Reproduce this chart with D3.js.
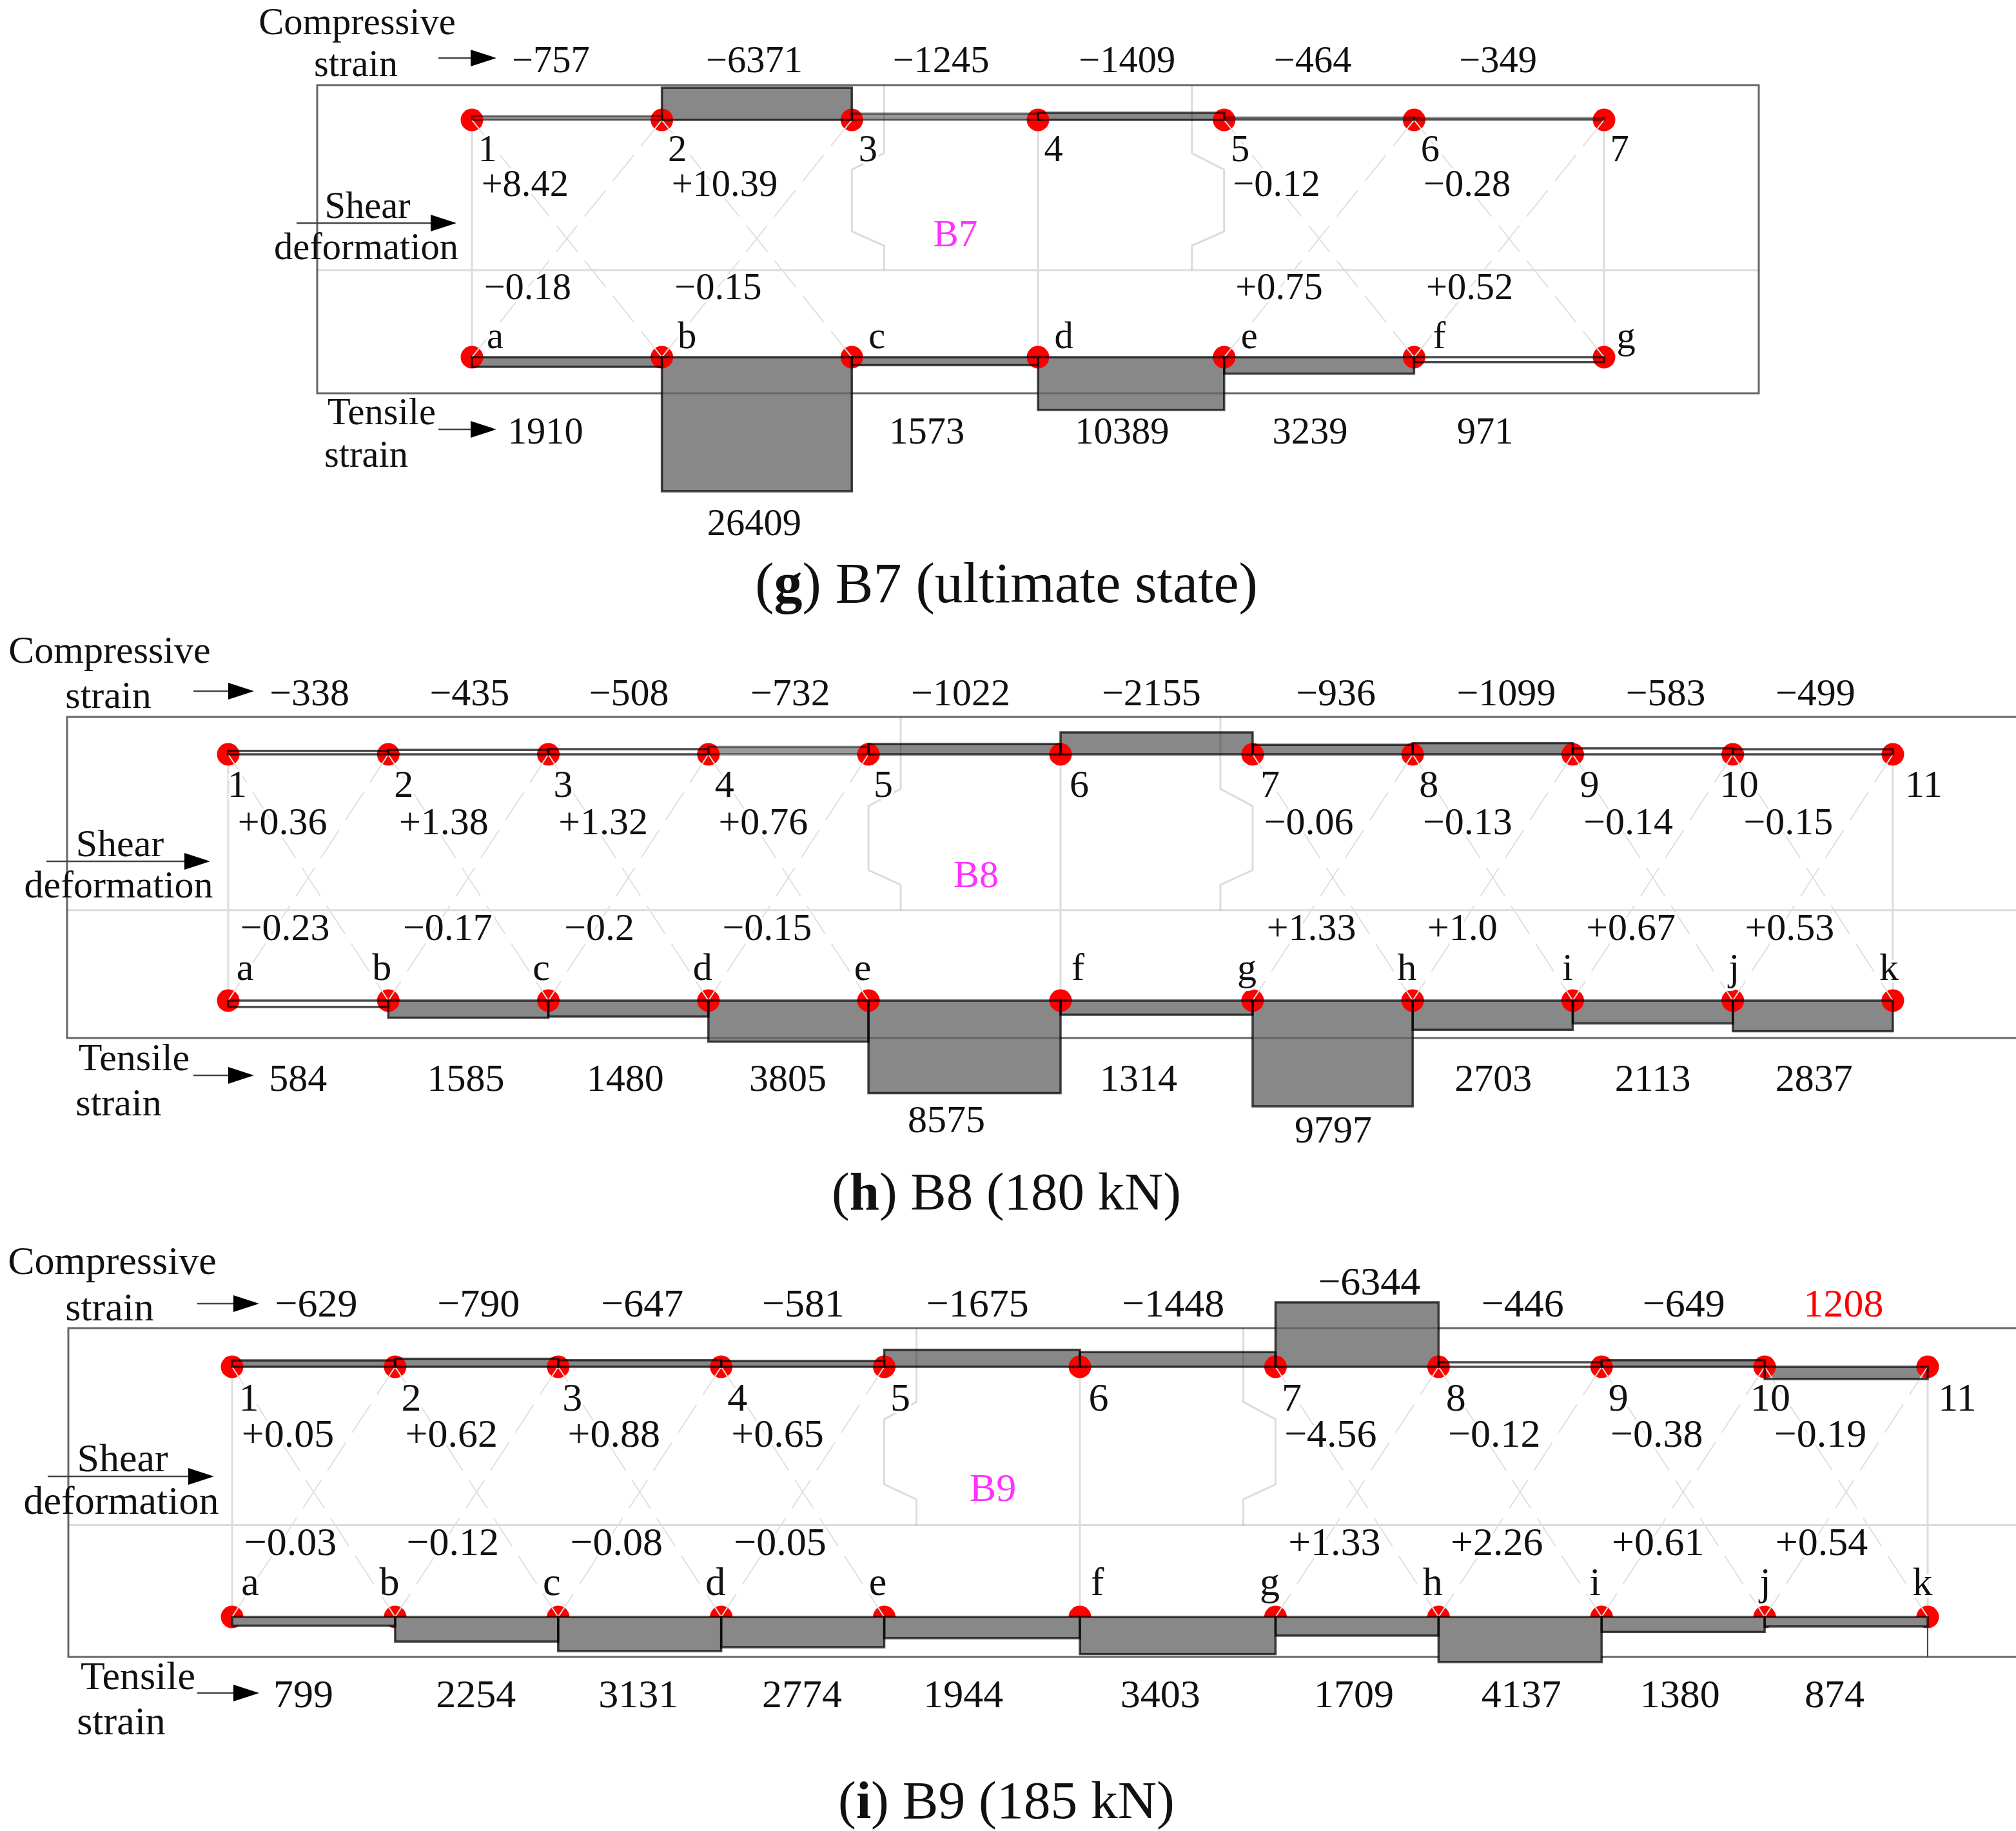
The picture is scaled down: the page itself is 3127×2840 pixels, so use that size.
<!DOCTYPE html>
<html>
<head>
<meta charset="utf-8">
<script src="https://cdn.jsdelivr.net/npm/d3@7"></script>
<style>
  body { margin: 0; background: #fff; }
  text { font-family: "Liberation Serif", serif; fill: #111; }
</style>
</head>
<body>
<svg id="chart" width="3127" height="2840"></svg>
<script>
// bay lengths in mm
var b7Bays = [300, 300, 294, 294, 300, 300]
var b8Bays = [250, 250, 250, 250, 300, 300, 250, 250, 250, 250]
var b9Bays = [250, 250, 250, 250, 300, 300, 250, 250, 250, 250]

var b7Numbers = ["1", "2", "3", "4", "5", "6", "7"]
var b7Letters = ["a", "b", "c", "d", "e", "f", "g"]
var longNumbers = ["1", "2", "3", "4", "5", "6", "7", "8", "9", "10", "11"]
var longLetters = ["a", "b", "c", "d", "e", "f", "g", "h", "i", "j", "k"]

// strain per bay
var b7Comp = [-757, -6371, -1245, -1409, -464, -349]
var b7Tens = [1910, 26409, 1573, 10389, 3239, 971]
var b8Comp = [-338, -435, -508, -732, -1022, -2155, -936, -1099, -583, -499]
var b8Tens = [584, 1585, 1480, 3805, 8575, 1314, 9797, 2703, 2113, 2837]
var b9Comp = [-629, -790, -647, -581, -1675, -1448, -6344, -446, -649, 1208]
var b9Tens = [799, 2254, 3131, 2774, 1944, 3403, 1709, 4137, 1380, 874]

// shear deformation per bay, no reading in the loaded bays
var b7ShearTop = ["+8.42", "+10.39", null, null, "\u22120.12", "\u22120.28"]
var b7ShearBot = ["\u22120.18", "\u22120.15", null, null, "+0.75", "+0.52"]
var b8ShearTop = ["+0.36", "+1.38", "+1.32", "+0.76", null, null, "\u22120.06", "\u22120.13", "\u22120.14", "\u22120.15"]
var b8ShearBot = ["\u22120.23", "\u22120.17", "\u22120.2", "\u22120.15", null, null, "+1.33", "+1.0", "+0.67", "+0.53"]
var b9ShearTop = ["+0.05", "+0.62", "+0.88", "+0.65", null, null, "\u22124.56", "\u22120.12", "\u22120.38", "\u22120.19"]
var b9ShearBot = ["\u22120.03", "\u22120.12", "\u22120.08", "\u22120.05", null, null, "+1.33", "+2.26", "+0.61", "+0.54"]

var panels = [
  { name: "B7", letter: "g", rest: " B7 (ultimate state)", captionY: 934, capFont: 88,
    bays: b7Bays, numbers: b7Numbers, letters: b7Letters, comp: b7Comp, tens: b7Tens, shearTop: b7ShearTop, shearBot: b7ShearBot,
    x0: 732, x1: 2488, top: 186, bot: 554, frame: [492, 132, 2728, 610], font: 58.5,
    blocks: [2, 4], compPx: 50, tensPx: 208, hollowComp: [], hollowTens: [5], softComp: [0, 2, 4, 5],
    compY: 112, tensY: 688, numY: 250, letterY: 540, topY: 304, botY: 464,
    nameX: 1482, nameY: 382,
    compDx: [-25, -4, -6, -6, -10, -17], tensDx: [-33, -4, -28, -14, -14, -37],
    topDx: [-65, -50, 0, 0, -66, -65], botDx: [-61, -60, 0, 0, -62, -61],
    numDx: [24, 24, 25, 24, 25, 25, 24], letterDx: [36, 39, 39, 40, 39, 39, 34],
    compDy: {}, tensDy: { 1: 142 },
    titles: [["Compressive", 554, 53], ["strain", 552, 118], ["Shear", 570, 338], ["deformation", 568, 402], ["Tensile", 592, 658], ["strain", 568, 724]],
    arrows: [[680, 770, 90], [460, 708, 346], [680, 770, 666]] },
  { name: "B8", letter: "h", rest: " B8 (180 kN)", captionY: 1876, capFont: 83,
    bays: b8Bays, numbers: longNumbers, letters: longLetters, comp: b8Comp, tens: b8Tens, shearTop: b8ShearTop, shearBot: b8ShearBot,
    x0: 354, x1: 2936, top: 1170, bot: 1552, frame: [104, 1112, 3140, 1610], font: 60,
    blocks: [4, 6], compPx: 34, tensPx: 164, hollowComp: [0, 1, 2, 8, 9], hollowTens: [0], softComp: [3],
    compY: 1094, tensY: 1692, numY: 1236, letterY: 1520, topY: 1294, botY: 1458,
    nameX: 1514, nameY: 1376,
    compDx: [2, 2, 1, 3, -6, -8, 5, 21, 20, 4], tensDx: [-16, -4, -5, -1, -28, -28, 1, 1, 0, 2],
    topDx: [-40, -38, -39, -39, 0, 0, -37, -39, -38, -38], botDx: [-36, -32, -45, -33, 0, 0, -33, -47, -34, -36],
    numDx: [14, 24, 23, 25, 23, 29, 27, 25, 26, 10, 48], letterDx: [26, -10, -11, -9, -9, 27, -9, -9, -8, 2, -6],
    compDy: {}, tensDy: { 4: 64, 6: 80 },
    titles: [["Compressive", 170, 1028], ["strain", 168, 1098], ["Shear", 186, 1328], ["deformation", 184, 1392], ["Tensile", 208, 1660], ["strain", 184, 1730]],
    arrows: [[300, 394, 1072], [72, 326, 1336], [300, 394, 1668]] },
  { name: "B9", letter: "i", rest: " B9 (185 kN)", captionY: 2820, capFont: 83.5,
    bays: b9Bays, numbers: longNumbers, letters: longLetters, comp: b9Comp, tens: b9Tens, shearTop: b9ShearTop, shearBot: b9ShearBot,
    x0: 360, x1: 2990, top: 2120, bot: 2508, frame: [106, 2060, 3140, 2570], font: 62,
    blocks: [4, 6], compPx: 100, tensPx: 70, hollowComp: [7], hollowTens: [], softComp: [], tensOverDots: true,
    compY: 2042, tensY: 2648, numY: 2188, letterY: 2474, topY: 2244, botY: 2412,
    nameX: 1540, nameY: 2328,
    compDx: [4, 3, 4, 1, -7, -7, 19, 4, 1, -4], tensDx: [-16, -1, -2, -1, -29, -27, -5, 2, -5, -18],
    topDx: [-40, -39, -40, -39, 0, 0, -41, -40, -41, -40], botDx: [-36, -37, -36, -35, 0, 0, -35, -36, -39, -38],
    numDx: [26, 25, 22, 25, 25, 29, 25, 27, 26, 9, 46], letterDx: [28, -9, -10, -9, -10, 27, -9, -9, -10, 1, -8],
    compDy: { 6: -34 }, tensDy: {},
    titles: [["Compressive", 174, 1976], ["strain", 170, 2048], ["Shear", 190, 2282], ["deformation", 188, 2348], ["Tensile", 214, 2620], ["strain", 188, 2690]],
    arrows: [[306, 402, 2022], [74, 332, 2290], [306, 402, 2626]] }
]

var svg = d3.select("#chart")
svg.append("rect").attr("width", 3127).attr("height", 2840).attr("fill", "#fff")

function strainText(v) {
  return v < 0 ? "\u2212" + (-v) : "" + v
}

function drawArrow(g, a) {
  g.append("line").attr("x1", a[0]).attr("x2", a[1] - 30).attr("y1", a[2]).attr("y2", a[2])
    .attr("stroke", "#444").attr("stroke-width", 2.5)
  g.append("path").attr("d", d3.line()([[a[1] - 40, a[2] - 13], [a[1], a[2]], [a[1] - 40, a[2] + 13]]) + "Z")
    .attr("fill", "#000")
}

function drawPanel(p) {
  var g = svg.append("g")
  var stations = [0].concat(Array.from(d3.cumsum(p.bays)))
  var x = d3.scaleLinear().domain([0, d3.sum(p.bays)]).range([p.x0, p.x1])
  var compH = d3.scaleLinear().domain([0, d3.max(p.comp, function(d) { return Math.abs(d) })]).range([0, p.compPx])
  var tensH = d3.scaleLinear().domain([0, d3.max(p.tens)]).range([0, p.tensPx])
  var span = p.bot - p.top
  var midY = p.top + span * 0.633
  var mid = function(i) { return (x(stations[i]) + x(stations[i + 1])) / 2 }
  var light = "#dcdcdc"

  // one rect per bar, the fill and the outline go in separate passes
  function compBar(sel, v, i) {
    var h = compH(Math.abs(v))
    return sel.append("rect").attr("x", x(stations[i])).attr("width", x(stations[i + 1]) - x(stations[i]))
      .attr("y", v < 0 ? p.top - h : p.top).attr("height", h)
  }
  function tensBar(sel, v, i) {
    return sel.append("rect").attr("x", x(stations[i])).attr("width", x(stations[i + 1]) - x(stations[i]))
      .attr("y", p.bot).attr("height", tensH(v))
  }
  function tensFills() {
    p.tens.forEach(function(v, i) {
      if (p.hollowTens.indexOf(i) < 0) tensBar(g, v, i).attr("fill", "#888")
    })
  }

  p.comp.forEach(function(v, i) {
    if (p.hollowComp.indexOf(i) >= 0) return
    compBar(g, v, i).attr("fill", p.softComp.indexOf(i) >= 0 ? "#999" : "#888")
  })
  if (!p.tensOverDots) tensFills()

  // frame
  g.append("rect").attr("x", p.frame[0]).attr("y", p.frame[1])
    .attr("width", p.frame[2] - p.frame[0]).attr("height", p.frame[3] - p.frame[1])
    .attr("fill", "none").attr("stroke", "#666").attr("stroke-width", 3)

  // beam outline and loading blocks
  g.append("line").attr("x1", p.frame[0]).attr("x2", p.frame[2]).attr("y1", midY).attr("y2", midY)
    .attr("stroke", light).attr("stroke-width", 3).style("mix-blend-mode", "multiply")
  p.blocks.forEach(function(n, k) {
    var nodeX = x(stations[n])
    var edge = k == 0 ? nodeX + 50 : nodeX - 50
    var pts = [[edge, p.frame[1]], [edge, p.top + span * 0.14], [nodeX, p.top + span * 0.21],
      [nodeX, p.top + span * 0.47], [edge, p.top + span * 0.53], [edge, midY]]
    g.append("path").attr("d", d3.line()(pts)).attr("fill", "none").attr("stroke", light).attr("stroke-width", 3)
      .style("mix-blend-mode", "multiply")
  })
  // verticals at the supports and mid span
  var verts = [0, p.blocks[0] + 1, p.bays.length]
  if (p.name == "B7") verts = [0, 3, 6]
  verts.forEach(function(n) {
    g.append("line").attr("x1", x(stations[n])).attr("x2", x(stations[n])).attr("y1", p.top).attr("y2", p.bot)
      .attr("stroke", light).attr("stroke-width", 3)
  })
  if (p.name == "B9") {
    g.append("line").attr("x1", p.x1).attr("x2", p.x1).attr("y1", p.bot).attr("y2", p.frame[3])
      .attr("stroke", "#444").attr("stroke-width", 2)
  }

  // gauge points
  stations.forEach(function(s) {
    ;[p.top, p.bot].forEach(function(y) {
      g.append("circle").attr("cx", x(s)).attr("cy", y).attr("r", 17.5).attr("fill", "#ff0000")
    })
  })
  if (p.tensOverDots) tensFills()

  // diagonals of each instrumented bay
  p.shearTop.forEach(function(s, i) {
    if (s == null) return
    var xa = x(stations[i]), xb = x(stations[i + 1])
    g.append("line").attr("x1", xa).attr("y1", p.top).attr("x2", xb).attr("y2", p.bot)
      .attr("stroke", "#e0e0e0").attr("stroke-width", 2).attr("stroke-dasharray", "52 18")
    g.append("line").attr("x1", xb).attr("y1", p.top).attr("x2", xa).attr("y2", p.bot)
      .attr("stroke", "#e0e0e0").attr("stroke-width", 2).attr("stroke-dasharray", "52 18")
  })

  // labels that sit on top of the light lines
  var masked = g.append("g").style("paint-order", "stroke").attr("stroke", "#fff").attr("stroke-width", 8)
    .attr("font-size", p.font).attr("text-anchor", "middle")
  p.numbers.forEach(function(t, i) {
    masked.append("text").attr("x", x(stations[i]) + p.numDx[i]).attr("y", p.numY).text(t)
    masked.append("text").attr("x", x(stations[i]) + p.letterDx[i]).attr("y", p.letterY).text(p.letters[i])
  })
  p.shearTop.forEach(function(s, i) {
    if (s == null) return
    masked.append("text").attr("x", mid(i) + p.topDx[i]).attr("y", p.topY).text(s)
    masked.append("text").attr("x", mid(i) + p.botDx[i]).attr("y", p.botY).text(p.shearBot[i])
  })

  // bar outlines over the points
  p.comp.forEach(function(v, i) {
    var soft = p.softComp.indexOf(i) >= 0
    compBar(g, v, i).attr("fill", "none").attr("stroke", soft ? "#8a8a8a" : "#4a4a4a").attr("stroke-width", 3.5)
      .style("mix-blend-mode", "multiply")
  })
  p.tens.forEach(function(v, i) {
    tensBar(g, v, i).attr("fill", "none").attr("stroke", "#4a4a4a").attr("stroke-width", 3.5)
      .style("mix-blend-mode", "multiply")
  })

  // strain values
  var labels = g.append("g").attr("font-size", p.font).attr("text-anchor", "middle")
  p.comp.forEach(function(v, i) {
    labels.append("text").attr("x", mid(i) + p.compDx[i]).attr("y", p.compY + (p.compDy[i] || 0))
      .style("fill", v > 0 ? "#f00" : null).text(strainText(v))
  })
  p.tens.forEach(function(v, i) {
    labels.append("text").attr("x", mid(i) + p.tensDx[i]).attr("y", p.tensY + (p.tensDy[i] || 0)).text(strainText(v))
  })
  p.titles.forEach(function(t) {
    labels.append("text").attr("x", t[1]).attr("y", t[2]).text(t[0])
  })
  labels.append("text").attr("x", p.nameX).attr("y", p.nameY).style("fill", "#ff33ff").text(p.name)
  p.arrows.forEach(function(a) { drawArrow(g, a) })

  // caption
  var cap = g.append("text").attr("x", 1561).attr("y", p.captionY).attr("text-anchor", "middle").attr("font-size", p.capFont)
  cap.append("tspan").text("(")
  cap.append("tspan").attr("font-weight", "bold").text(p.letter)
  cap.append("tspan").text(")" + p.rest)
}

panels.forEach(drawPanel)
</script>
</body>
</html>
